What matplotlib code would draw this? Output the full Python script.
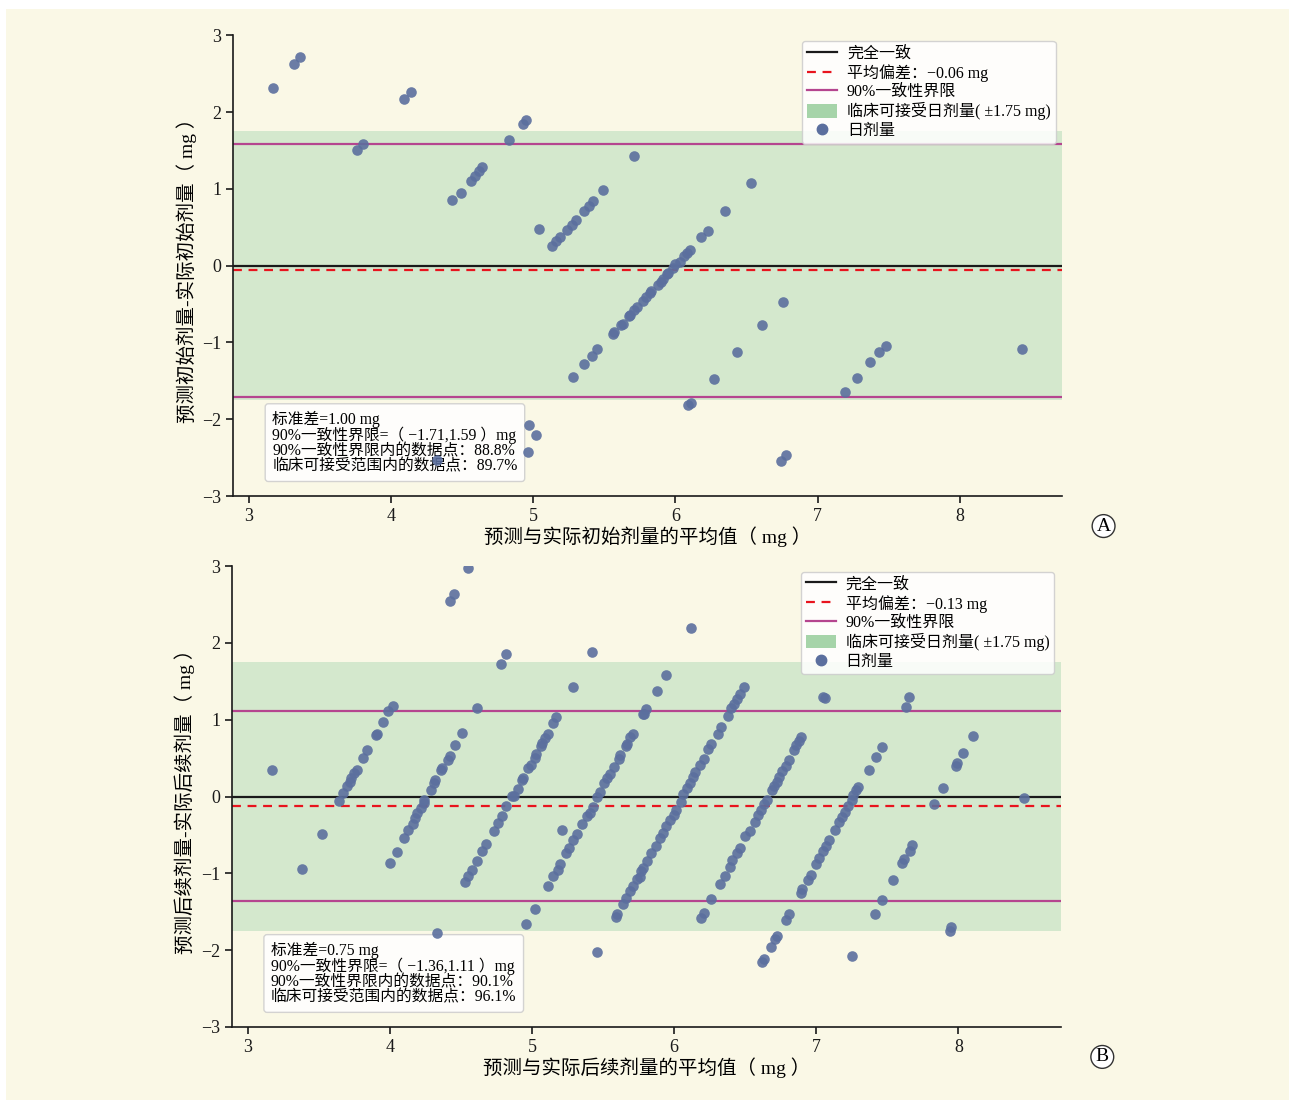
import numpy as np
import matplotlib.pyplot as plt
from matplotlib.patches import Patch, Rectangle
from matplotlib.lines import Line2D

plt.rcParams['font.family'] = ['Liberation Serif', 'Noto Sans CJK SC', 'DejaVu Sans']
plt.rcParams['axes.unicode_minus'] = True

# ---- panel A: initial dose (mean, difference) ----
a_mean = [3.17, 3.32, 3.36, 3.76, 3.80, 4.09, 4.14,
          4.43, 4.49, 4.56, 4.59, 4.62, 4.64, 4.83, 4.93, 4.95,
          5.04, 5.13, 5.16, 5.19, 5.24, 5.27, 5.30, 5.36, 5.39, 5.42, 5.49, 5.71,
          5.28, 5.36, 5.41, 5.45, 5.56, 5.57, 5.62, 5.63, 5.67, 5.68, 5.71, 5.73,
          5.77, 5.79, 5.82, 5.83, 5.88, 5.90, 5.91, 5.94, 5.95, 5.98, 6.00, 6.03,
          6.06, 6.08, 6.10, 6.18, 6.23, 6.35, 6.53,
          6.76, 6.61, 6.43, 6.27, 6.09, 6.11, 6.74, 6.78,
          7.19, 7.28, 7.37, 7.43, 7.48, 8.44,
          4.97, 5.02, 4.96, 4.32]
a_diff = [2.31, 2.63, 2.72, 1.50, 1.58, 2.17, 2.26,
          0.85, 0.95, 1.10, 1.17, 1.23, 1.28, 1.64, 1.85, 1.89,
          0.48, 0.25, 0.32, 0.37, 0.46, 0.53, 0.59, 0.71, 0.78, 0.84, 0.99, 1.43,
          -1.45, -1.28, -1.18, -1.09, -0.89, -0.86, -0.77, -0.76, -0.66, -0.64, -0.58, -0.54,
          -0.46, -0.41, -0.35, -0.33, -0.25, -0.21, -0.18, -0.11, -0.09, -0.03, 0.02, 0.05,
          0.13, 0.17, 0.21, 0.37, 0.45, 0.71, 1.07,
          -0.47, -0.77, -1.13, -1.47, -1.82, -1.79, -2.54, -2.46,
          -1.64, -1.46, -1.26, -1.13, -1.04, -1.09,
          -2.07, -2.21, -2.42, -2.53]

# ---- panel B: follow-up dose (mean, difference) ----
b_mean = [
    # scattered
    3.17, 3.52, 3.38, 4.55, 4.42, 4.45, 4.78, 4.82, 4.61, 5.42, 5.29, 5.21,
    5.02, 4.96, 5.46, 4.33, 6.12, 5.94, 5.88, 5.78,
    # strand 1
    3.64, 3.67, 3.70, 3.72, 3.73, 3.75, 3.77, 3.81, 3.84, 3.90, 3.91, 3.95, 3.99, 4.02,
    # strand 2
    4.00, 4.05, 4.10, 4.13, 4.16, 4.18, 4.19, 4.22, 4.24, 4.24, 4.29, 4.31, 4.32,
    4.36, 4.37, 4.41, 4.42, 4.46, 4.51,
    # strand 3
    4.53, 4.55, 4.58, 4.61, 4.65, 4.68, 4.73, 4.76, 4.79, 4.82, 4.86, 4.87,
    4.90, 4.93, 4.94, 4.97, 4.99, 5.02, 5.03, 5.06, 5.07, 5.09, 5.11, 5.15, 5.17,
    # strand 4
    5.11, 5.15, 5.18, 5.20, 5.24, 5.26, 5.29, 5.32, 5.35, 5.39, 5.41, 5.43, 5.46,
    5.48, 5.51, 5.53, 5.55, 5.58, 5.61, 5.62, 5.66, 5.67, 5.69, 5.71, 5.79, 5.80,
    # strand 5
    5.59, 5.60, 5.64, 5.66, 5.69, 5.71, 5.74, 5.76, 5.77, 5.78, 5.81, 5.84, 5.87,
    5.90, 5.92, 5.94, 5.97, 6.00, 6.01, 6.05, 6.06, 6.09, 6.11, 6.13, 6.15, 6.18,
    6.21, 6.24, 6.26, 6.31, 6.33, 6.38, 6.40, 6.42, 6.44, 6.46, 6.49,
    # strand 6
    6.19, 6.21, 6.26, 6.32, 6.36, 6.39, 6.41, 6.44, 6.46, 6.50, 6.53, 6.57, 6.59,
    6.61, 6.63, 6.65, 6.69, 6.70, 6.72, 6.74, 6.76, 6.79, 6.81, 6.84, 6.86, 6.88, 6.89,
    7.05, 7.06,
    # strand 7
    6.62, 6.63, 6.68, 6.71, 6.72, 6.79, 6.81, 6.89, 6.90, 6.94, 6.96, 7.00, 7.02,
    7.05, 7.07, 7.09, 7.13, 7.16, 7.18, 7.20, 7.22, 7.25, 7.26, 7.28, 7.29,
    7.37, 7.42, 7.46, 7.25,
    # strand 8 and right side
    7.41, 7.46, 7.54, 7.60, 7.62, 7.66, 7.67, 7.63, 7.65,
    7.83, 7.89, 7.98, 7.99, 8.03, 8.10, 7.94, 7.95, 8.46]
b_diff = [
    0.35, -0.49, -0.94, 2.97, 2.54, 2.64, 1.73, 1.85, 1.15, 1.88, 1.43, -0.44,
    -1.46, -1.66, -2.03, -1.78, 2.20, 1.58, 1.38, 1.08,
    -0.06, 0.05, 0.14, 0.19, 0.24, 0.30, 0.35, 0.50, 0.60, 0.80, 0.81, 0.97, 1.11, 1.18,
    -0.87, -0.72, -0.54, -0.44, -0.36, -0.28, -0.22, -0.15, -0.08, -0.04, 0.09, 0.17, 0.21,
    0.34, 0.37, 0.48, 0.53, 0.67, 0.83,
    -1.11, -1.03, -0.96, -0.84, -0.71, -0.62, -0.45, -0.35, -0.25, -0.13, 0.01, 0.01,
    0.10, 0.22, 0.24, 0.37, 0.41, 0.50, 0.55, 0.66, 0.70, 0.76, 0.82, 0.96, 1.03,
    -1.16, -1.04, -0.96, -0.88, -0.74, -0.67, -0.57, -0.49, -0.36, -0.26, -0.21, -0.14, -0.01,
    0.06, 0.17, 0.24, 0.29, 0.38, 0.49, 0.54, 0.66, 0.69, 0.78, 0.82, 1.07, 1.14,
    -1.57, -1.53, -1.40, -1.32, -1.23, -1.17, -1.08, -1.05, -0.97, -0.93, -0.84, -0.74, -0.64,
    -0.54, -0.47, -0.38, -0.31, -0.24, -0.18, -0.07, 0.03, 0.11, 0.18, 0.25, 0.32, 0.41,
    0.49, 0.62, 0.68, 0.81, 0.90, 1.05, 1.15, 1.21, 1.27, 1.33, 1.42,
    -1.58, -1.51, -1.33, -1.14, -1.03, -0.92, -0.83, -0.74, -0.67, -0.52, -0.45, -0.33, -0.24,
    -0.17, -0.10, -0.04, 0.08, 0.14, 0.19, 0.26, 0.33, 0.40, 0.48, 0.60, 0.67, 0.72, 0.77,
    1.30, 1.28,
    -2.15, -2.11, -1.96, -1.86, -1.81, -1.61, -1.53, -1.26, -1.20, -1.09, -1.02, -0.88, -0.80,
    -0.71, -0.64, -0.57, -0.43, -0.33, -0.27, -0.20, -0.13, -0.04, 0.02, 0.08, 0.13,
    0.35, 0.52, 0.64, -2.08,
    -1.53, -1.35, -1.09, -0.87, -0.81, -0.71, -0.63, 1.17, 1.29,
    -0.10, 0.11, 0.40, 0.44, 0.57, 0.79, -1.75, -1.70, -0.02]

panels = [
    dict(x=a_mean, y=a_diff, bias=-0.06, lo=-1.71, hi=1.59, sd="1.00",
         inside="88.8%", accept="89.7%", xlabel="预测与实际初始剂量的平均值（ mg ）",
         ylabel="预测初始剂量-实际初始剂量（ mg ）", tag="A"),
    dict(x=b_mean, y=b_diff, bias=-0.13, lo=-1.36, hi=1.11, sd="0.75",
         inside="90.1%", accept="96.1%", xlabel="预测与实际后续剂量的平均值（ mg ）",
         ylabel="预测后续剂量-实际后续剂量（ mg ）", tag="B"),
]

bg = '#faf8e6'
fig = plt.figure(figsize=(12.89, 11.0), dpi=100, facecolor='white')
fig.patches.append(Rectangle((0.005, 0.0), 0.995, 0.992, transform=fig.transFigure,
                             facecolor=bg, edgecolor='none', zorder=-10))

rects = [[0.181, 0.549, 0.643, 0.419], [0.180, 0.0664, 0.643, 0.419]]

for p, r in zip(panels, rects):
    ax = fig.add_axes(r)
    ax.set_facecolor('none')
    ax.axhspan(-1.75, 1.75, color='#d4e8cd', zorder=0, lw=0)
    ax.axhline(0, color='#1a1a1a', lw=1.6, zorder=2)
    ax.axhline(p['bias'], color='#e8141e', lw=1.6, ls=(0, (4, 3)), zorder=2)
    ax.axhline(p['hi'], color='#b5458f', lw=1.6, zorder=2)
    ax.axhline(p['lo'], color='#b5458f', lw=1.6, zorder=2)
    ax.scatter(p['x'], p['y'], s=58, color='#5b6f9e', alpha=0.9, lw=0, zorder=6)

    ax.set_xlim(2.89, 8.72)
    ax.set_ylim(-3, 3)
    ax.set_xticks([3, 4, 5, 6, 7, 8])
    ax.set_yticks([-3, -2, -1, 0, 1, 2, 3])
    for s in ['top', 'right']:
        ax.spines[s].set_visible(False)
    for s in ['left', 'bottom']:
        ax.spines[s].set_linewidth(1.2)
        ax.spines[s].set_color('#1a1a1a')
    ax.tick_params(labelsize=13, width=1.2, length=5, colors='#1a1a1a')
    ax.set_xlabel(p['xlabel'], fontsize=14, labelpad=1)
    ax.set_ylabel(p['ylabel'], fontsize=14, labelpad=4)

    handles = [
        Line2D([], [], color='#1a1a1a', lw=1.6),
        Line2D([], [], color='#e8141e', lw=1.6, ls=(0, (4, 3))),
        Line2D([], [], color='#b5458f', lw=1.6),
        Patch(facecolor='#a6d4a9', edgecolor='none'),
        Line2D([], [], ls='none', marker='o', ms=7.5, color='#5b6f9e'),
    ]
    labels = ['完全一致', '平均偏差：−%.2f mg' % abs(p['bias']), '90%一致性界限',
              '临床可接受日剂量( ±1.75 mg)', '日剂量']
    leg = ax.legend(handles, labels, loc='upper right', bbox_to_anchor=(0.992, 0.988),
                    fontsize=11.5, frameon=True, fancybox=True, framealpha=0.85,
                    edgecolor='#cccccc', handlelength=1.9, handleheight=0.9,
                    handletextpad=0.6, labelspacing=0.14, borderpad=0.3,
                    borderaxespad=0)
    leg.set_zorder(10)

    stats = ('标准差=%s mg\n90%%一致性界限=（ −%.2f,%.2f ）mg\n'
             '90%%一致性界限内的数据点：%s\n临床可接受范围内的数据点：%s'
             % (p['sd'], abs(p['lo']), p['hi'], p['inside'], p['accept']))
    ax.text(0.047, 0.047, stats, transform=ax.transAxes, fontsize=11.3,
            va='bottom', ha='left', linespacing=0.92, zorder=5,
            bbox=dict(boxstyle='round,pad=0.45,rounding_size=0.2', fc='white',
                      ec='#cccccc', alpha=0.85))

    ax.text(1.05, -0.065, p['tag'], transform=ax.transAxes, fontsize=14,
            ha='center', va='center',
            bbox=dict(boxstyle='circle,pad=0.15', fc='white', ec='#333333', lw=1.0))

fig.savefig('out.png', dpi=100, facecolor=fig.get_facecolor())
